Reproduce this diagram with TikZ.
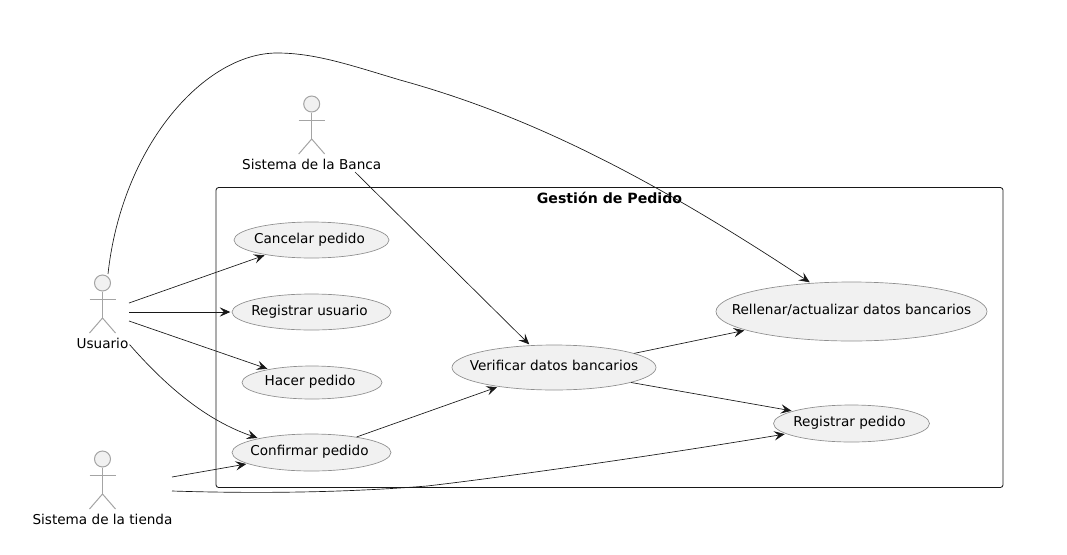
\documentclass[tikz,border=0pt]{standalone}
\usepackage{fontspec}
\setmainfont{DejaVu Sans}
\usetikzlibrary{arrows.meta,shapes.geometric}
\definecolor{umlfill}{HTML}{F1F1F1}
\definecolor{umlline}{HTML}{8E8E8E}
\definecolor{actorgrey}{HTML}{A4A4A4}
\definecolor{umlink}{HTML}{181818}
\newcommand{\uclabel}[2][-3pt]{\makebox[0pt]{\kern#1\smash{\raisebox{-2.4pt}{#2}}}}
\tikzset{
  every node/.style={font=\fontsize{10.2pt}{12pt}\selectfont,text=black},
  usecase/.style={ellipse,draw=umlline,fill=umlfill,line width=0.5pt,inner sep=0pt,
    minimum width=2*#1*0.75pt},
  ucheight/.style={minimum height=2*#1*0.75pt},
  actorline/.style={draw=actorgrey,line width=0.75pt},
  actorhead/.style={circle,draw=actorgrey,fill=umlfill,line width=0.75pt,inner sep=0pt,minimum size=12pt},
  actorlabel/.style={inner sep=0pt},
  sysbox/.style={draw=umlink,line width=0.6pt,rounded corners=2pt},
  conn/.style={draw=umlink,line width=0.5pt,shorten >=1pt,-{Stealth[length=8pt,width=7pt,inset=3.2pt]}},
}
\newcommand{\umlactor}[5]{% name, x, head y, label y, text
  \node[actorhead] (#1head) at (#2,#3) {};
  \coordinate (#1arml) at (#2-13,#3+16);
  \coordinate (#1armr) at (#2+13,#3+16);
  \coordinate (#1crotch) at (#2,#3+35);
  \coordinate (#1legl) at (#2-13,#3+50);
  \coordinate (#1legr) at (#2+13,#3+50);
  \draw[actorline] (#1head) -- (#1crotch);
  \draw[actorline] (#1arml) -- (#1armr);
  \draw[actorline] (#1legl) -- (#1crotch) -- (#1legr);
  \node[actorlabel] (#1) at (#2,#4) {#5};
}
\begin{document}
\begin{tikzpicture}[x=0.75pt,y=-0.75pt]
\useasboundingbox (0,0) rectangle (1067,554);
\draw[sysbox] (216,187.5) rectangle (1003,487.5);
\node[inner sep=0pt,font=\fontsize{10.6pt}{12pt}\selectfont\bfseries] (titulo) at (609.5,198) {Gestión de Pedido};

\umlactor{usuario}{102.5}{283}{343}{Usuario}
\umlactor{banca}{311.7}{104}{164}{Sistema de la Banca}
\umlactor{tienda}{102.5}{459}{519}{Sistema de la tienda}

\node[usecase=77.5,ucheight=18] (cancelar) at (311.5,240) {\uclabel{Cancelar pedido}};
\node[usecase=79.5,ucheight=18] (regusuario) at (311.5,312) {\uclabel{Registrar usuario}};
\node[usecase=70,ucheight=16.5] (hacer) at (312,382.5) {\uclabel{Hacer pedido}};
\node[usecase=79.5,ucheight=18.5] (confirmar) at (311.5,452.5) {\uclabel{Confirmar pedido}};
\node[usecase=102,ucheight=22.5] (verificar) at (554,367.5) {\uclabel[0pt]{Verificar datos bancarios}};
\node[usecase=135.5,ucheight=29.5] (rellenar) at (851.5,311.5) {\uclabel[0pt]{Rellenar/actualizar datos bancarios}};
\node[usecase=78,ucheight=18.5] (regpedido) at (851.5,423.5) {\uclabel{Registrar pedido}};

\coordinate (u1) at (129,303);
\coordinate (u2) at (129,312);
\coordinate (u3) at (129,321);
\coordinate (u4) at (129.5,344.5);
\coordinate (u5) at (108,274);
\coordinate (b1) at (355,172);
\coordinate (t1) at (172,477);
\coordinate (t2) at (172,491);

\draw[conn] (u1) -- (cancelar.198.6);
\draw[conn] (u2) -- (regusuario.180);
\draw[conn] (u3) -- (hacer.163.4);
\draw[conn] (u4) .. controls (165,385) and (205,420) .. (confirmar.165);
\draw[conn] (u5) .. controls (122,145) and (205,53) .. (277,53) .. controls (315,53) and (350,65) .. (400,80) .. controls (520,113) and (640,170) .. (rellenar.145.5);
\draw[conn] (b1) -- (verificar.137);
\draw[conn] (confirmar.19.9) -- (verificar.199.3);
\draw[conn] (t1) -- (confirmar.190);
\draw[conn] (t2) .. controls (250,493.5) and (340,493) .. (427,486) .. controls (500,477.6) and (650,456.5) .. (regpedido.189.7);
\draw[conn] (verificar.10) -- (rellenar.190);
\draw[conn] (verificar.349) -- (regpedido.168.5);
\end{tikzpicture}
\end{document}
